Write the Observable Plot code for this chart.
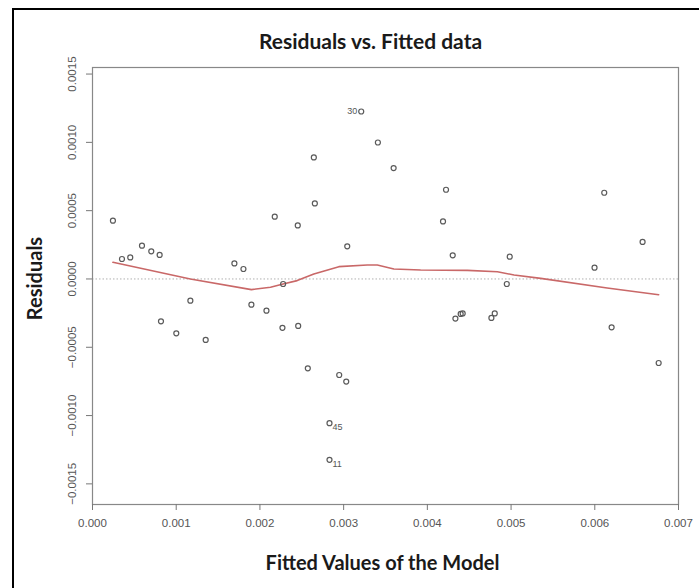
<!DOCTYPE html>
<html>
<head>
<meta charset="utf-8">
<script src="https://cdn.jsdelivr.net/npm/d3@7"></script>
<script src="https://cdn.jsdelivr.net/npm/@observablehq/plot@0.6"></script>
<style>
  html, body { margin: 0; padding: 0; background: #fff; }
  #wrap { position: relative; width: 699px; height: 588px; overflow: hidden; }
  #border { position: absolute; left: 12px; top: 8px; width: 700px; height: 600px;
            border-left: 2px solid #000; border-top: 2px solid #000; pointer-events: none; }
</style>
</head>
<body>
<div id="wrap"><div id="border"></div></div>
<script>
const fitted = [
  0.000244, 0.000352, 0.000451, 0.000591, 0.000702, 0.000802, 0.000818, 0.001001, 0.001169, 0.001352,
  0.001695, 0.001803, 0.001898, 0.002078, 0.002177, 0.002269, 0.002277, 0.003210, 0.003409, 0.002644,
  0.003597, 0.002656, 0.002452, 0.003043, 0.002457, 0.002572, 0.002947, 0.003031, 0.002831, 0.002831,
  0.004223, 0.004187, 0.004303, 0.004984, 0.004949, 0.004335, 0.004398, 0.004422, 0.004765, 0.004805,
  0.006113, 0.006571, 0.005997, 0.006201, 0.006763
];
const residuals = [
  0.000427, 0.000146, 0.000158, 0.000244, 0.000202, 0.000176, -0.000310, -0.000398, -0.000159, -0.000446,
  0.000114, 0.000073, -0.000188, -0.000232, 0.000456, -0.000358, -0.000037, 0.001226, 0.000999, 0.000890,
  0.000812, 0.000553, 0.000392, 0.000239, -0.000344, -0.000654, -0.000703, -0.000751, -0.001056, -0.001324,
  0.000653, 0.000421, 0.000173, 0.000163, -0.000037, -0.000290, -0.000256, -0.000252, -0.000285, -0.000252,
  0.000631, 0.000271, 0.000083, -0.000354, -0.000615
];
const pointIds = [
  "", "", "", "", "", "", "", "", "", "",
  "", "", "", "", "", "", "", "30", "", "",
  "", "", "", "", "", "", "", "", "45", "11",
  "", "", "", "", "", "", "", "", "", "",
  "", "", "", "", ""
];
const smoothX = [0.000244, 0.001169, 0.001898, 0.002126, 0.002277, 0.002445, 0.002644, 0.002943, 0.003282, 0.003402, 0.003600, 0.003920, 0.004478, 0.004837, 0.005036, 0.005355, 0.006148, 0.006763];
const smoothY = [0.000122, 0.000000, -0.000078, -0.000061, -0.000037, -0.000012, 0.000037, 0.000090, 0.000102, 0.000102, 0.000073, 0.000066, 0.000063, 0.000053, 0.000029, 0.000004, -0.000066, -0.000115];
const xTicks = [0, 0.001, 0.002, 0.003, 0.004, 0.005, 0.006, 0.007];
const yTicks = [-0.0015, -0.0010, -0.0005, 0, 0.0005, 0.0010, 0.0015];
const titleText = ["Residuals vs. Fitted data"];
const xLabel = ["Fitted Values of the Model"];
const yLabel = ["Residuals"];

const pts = fitted.map((x, i) => ({x, y: residuals[i], id: pointIds[i]}));
const smooth = smoothX.map((x, i) => ({x, y: smoothY[i]}));
const labelled = pts.filter(d => d.id);

const titleFont = "Lato, 'Open Sans', sans-serif";
const tickFont = "'Liberation Sans', Arial, sans-serif";

const chart = Plot.plot({
  width: 699,
  height: 588,
  marginLeft: 92,
  marginRight: 21,
  marginTop: 67,
  marginBottom: 84,
  style: {background: "#fff", fontFamily: tickFont, fontSize: "11.5px", overflow: "visible"},
  x: {domain: [0, 0.007]},
  y: {domain: [-0.001651, 0.001548]},
  marks: [
    Plot.ruleY([0], {stroke: "#b0b0b0", strokeDasharray: "1.5,2", strokeWidth: 1}),
    Plot.line(smooth, {x: "x", y: "y", stroke: "#c96868", strokeWidth: 1.6, curve: "linear"}),
    Plot.dot(pts, {x: "x", y: "y", r: 2.5, stroke: "#5a5a5a", fill: "none", strokeWidth: 1.2}),
    Plot.text(labelled.filter(d => d.id === "30"), {x: "x", y: "y", text: "id", dx: -4, textAnchor: "end", fontSize: 9, fill: "#555"}),
    Plot.text(labelled.filter(d => d.id !== "30"), {x: "x", y: "y", text: "id", dx: 3, dy: 4, textAnchor: "start", fontSize: 9, fill: "#555"}),
    Plot.frame({stroke: "#888", strokeWidth: 1.2}),
    Plot.axisX({ticks: xTicks, tickFormat: d3.format(".3f"), tickSize: 6, tickPadding: 8, stroke: "#777", fill: "#555", label: null}),
    Plot.axisY({ticks: yTicks, tickFormat: d3.format(".4f"), tickSize: 6, tickRotate: -90, tickPadding: 11, stroke: "#777", fill: "#555", label: null}),
    Plot.text(titleText, {frameAnchor: "top", textAnchor: "middle", lineAnchor: "middle", dx: -15, dy: -25, fontSize: 21, fontWeight: "bold", fontFamily: titleFont, fill: "#1a1a1a"}),
    Plot.text(xLabel, {frameAnchor: "bottom", textAnchor: "middle", lineAnchor: "middle", dx: -3, dy: 59.5, fontSize: 20, fontWeight: "bold", fontFamily: titleFont, fill: "#1a1a1a"}),
    Plot.text(yLabel, {frameAnchor: "left", textAnchor: "middle", lineAnchor: "middle", dx: -56.5, dy: -7.5, rotate: -90, fontSize: 20, fontWeight: "bold", fontFamily: titleFont, fill: "#1a1a1a"})
  ]
});
document.getElementById("wrap").prepend(chart);
</script>
</body>
</html>
